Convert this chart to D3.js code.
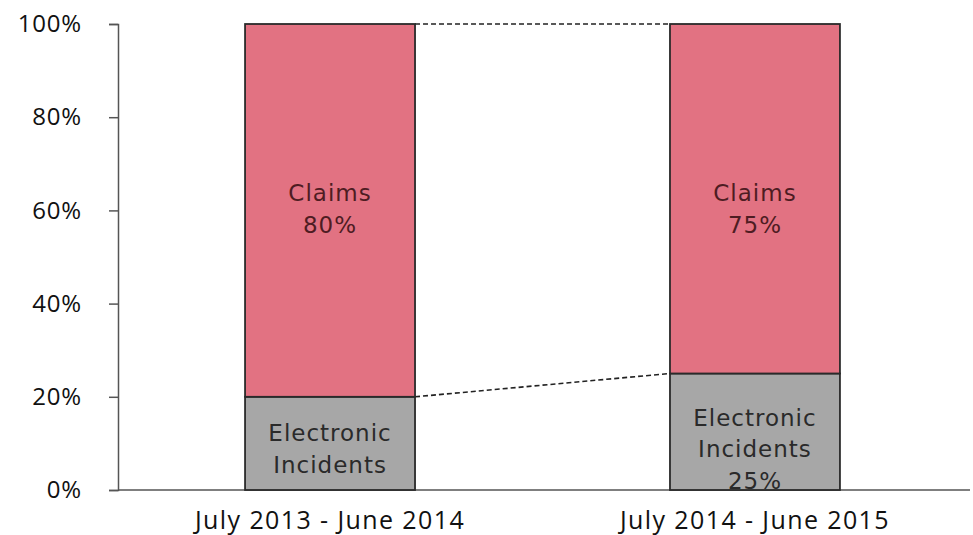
<!DOCTYPE html>
<html><head><meta charset="utf-8">
<script src="https://cdn.jsdelivr.net/npm/d3@7"></script>
<style>body{margin:0;background:#fff}</style>
</head><body>
<svg id="chart" width="973" height="535"></svg>
<script>
const categories = ["July 2013 - June 2014", "July 2014 - June 2015"];
const electronicValues = [20, 25];
const claimsValues = [80, 75];
const yTicks = [0, 20, 40, 60, 80, 100];
const claimsLabels = [["Claims", "80%"], ["Claims", "75%"]];
const electronicLabels = [["Electronic", "Incidents"], ["Electronic", "Incidents", "25%"]];

const svg = d3.select("#chart");
const x = d3.scaleBand().domain(categories).range([118, 967]).paddingInner(0.6).paddingOuter(0.299);
const y = d3.scaleLinear().domain([0, 100]).range([490, 24]);

// y axis
const yAxis = svg.append("g").attr("transform", "translate(118,0)")
  .call(d3.axisLeft(y).tickValues(yTicks).tickFormat(d => d + "%").tickSize(9).tickPadding(27));
yAxis.select(".domain").attr("stroke", "#555").attr("stroke-width", 1.5);
yAxis.selectAll(".tick line").attr("stroke", "#555").attr("stroke-width", 1.5);
yAxis.selectAll("text").attr("font-family", "Open Sans, sans-serif").attr("font-size", 24)
  .attr("letter-spacing", 0.8).attr("fill", "#111");

// x axis
const xAxis = svg.append("g").attr("transform", "translate(0,490)")
  .call(d3.axisBottom(x).tickSize(0).tickPadding(21));
xAxis.select(".domain").attr("stroke", "#555").attr("stroke-width", 1.5).attr("d", "M118,0H970");
xAxis.selectAll("text").attr("font-family", "Open Sans, sans-serif").attr("font-size", 25)
  .attr("letter-spacing", 1.4).attr("fill", "#111");

// connector dashed lines
const i0 = 0, i1 = 1;
const lines = [
  [[x(categories[i0]) + x.bandwidth(), y(100)], [x(categories[i1]), y(100)]],
  [[x(categories[i0]) + x.bandwidth(), y(electronicValues[i0])], [x(categories[i1]), y(electronicValues[i1])]]
];
svg.selectAll("line.conn").data(lines).join("line").attr("class", "conn")
  .attr("x1", d => d[0][0]).attr("y1", d => d[0][1]).attr("x2", d => d[1][0]).attr("y2", d => d[1][1])
  .attr("stroke", "#222").attr("stroke-width", 1.6).attr("stroke-dasharray", "5,3");

// bars
const g = svg.append("g");
g.selectAll("rect.elec").data(categories).join("rect").attr("class", "elec")
  .attr("x", d => x(d)).attr("width", x.bandwidth())
  .attr("y", (d, i) => y(electronicValues[i])).attr("height", (d, i) => y(0) - y(electronicValues[i]))
  .attr("fill", "#a7a7a7").attr("stroke", "#2a2a2a").attr("stroke-width", 1.8);
g.selectAll("rect.claims").data(categories).join("rect").attr("class", "claims")
  .attr("x", d => x(d)).attr("width", x.bandwidth())
  .attr("y", (d, i) => y(electronicValues[i] + claimsValues[i])).attr("height", (d, i) => y(electronicValues[i]) - y(electronicValues[i] + claimsValues[i]))
  .attr("fill", "#e27282").attr("stroke", "#2a2a2a").attr("stroke-width", 1.8);

// labels
const labFont = "DejaVu Sans, sans-serif";
categories.forEach((c, i) => {
  const cx = x(c) + x.bandwidth() / 2;
  const ctop = y(electronicValues[i] + claimsValues[i]);
  claimsLabels[i].forEach((t, k) => {
    svg.append("text").attr("x", cx).attr("y", ctop + 177 + k * 32)
      .attr("text-anchor", "middle").attr("font-family", labFont).attr("font-size", 23)
      .attr("letter-spacing", 1).attr("fill", "#4e1c22").text(t);
  });
  const n = electronicLabels[i].length;
  electronicLabels[i].forEach((t, k) => {
    svg.append("text").attr("x", cx).attr("y", y(0) - 33 + (k - (n - 1) / 2) * 31.5)
      .attr("text-anchor", "middle").attr("font-family", labFont).attr("font-size", 23)
      .attr("letter-spacing", 1).attr("fill", "#2a2a2a").text(t);
  });
});
</script>
</body></html>
